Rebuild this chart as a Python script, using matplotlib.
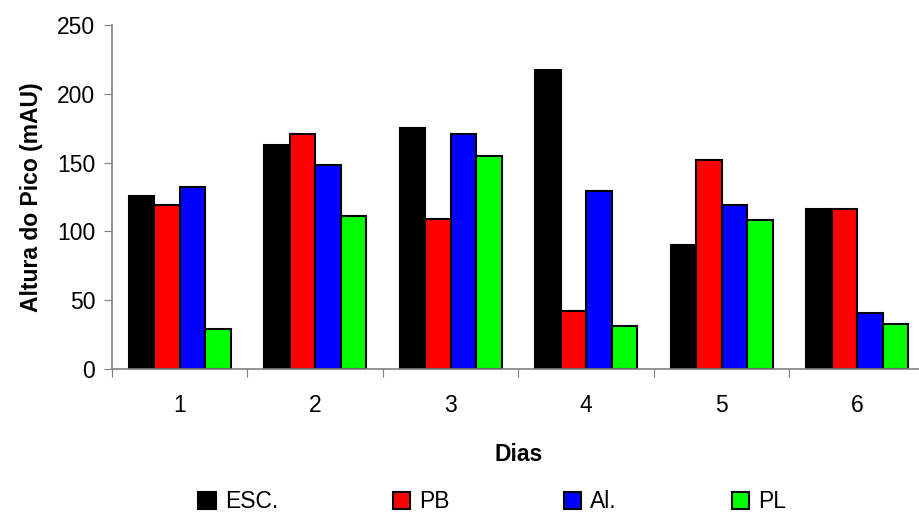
import matplotlib.pyplot as plt
import numpy as np

plt.rcParams['font.family'] = ['Liberation Sans', 'DejaVu Sans']

# Data
dias = ['1', '2', '3', '4', '5', '6']
series = ['ESC.', 'PB', 'Al.', 'PL']
esc = [126, 163, 175, 217, 90, 116]
pb = [119, 171, 109, 42, 152, 116]
al = [132, 148, 171, 129, 119, 41]
pl = [29, 111, 155, 31, 108, 33]
colors = ['#000000', '#ff0000', '#0000ff', '#00ff00']

fs = 16.5

fig = plt.figure(figsize=(9.2, 5.16), dpi=100)
ax = fig.add_axes([112 / 920, 147 / 516, 813 / 920, 344 / 516])

x = np.arange(len(dias))
w = 0.1875
for i, (vals, name, c) in enumerate(zip([esc, pb, al, pl], series, colors)):
    ax.bar(x + (i - 1.5) * w, vals, w, color=c, edgecolor='black',
           linewidth=1.5, label=name)

ax.set_xlim(-0.5, len(dias) - 0.5)
ax.set_ylim(0, 250)
ax.set_yticks([0, 50, 100, 150, 200, 250])

# category boundaries as ticks, labels centered
ax.set_xticks(np.arange(len(dias) + 1) - 0.5)
ax.set_xticklabels([])
ax.set_xticks(x, minor=True)
ax.set_xticklabels(dias, minor=True)
ax.tick_params(axis='x', which='minor', length=0, pad=18, labelsize=fs)
ax.tick_params(axis='x', which='major', length=6, color='#808080', direction='out')
ax.tick_params(axis='y', length=6, color='#808080', labelsize=fs, pad=6)

for s in ['top', 'right']:
    ax.spines[s].set_visible(False)
for s in ['left', 'bottom']:
    ax.spines[s].set_color('#808080')
    ax.spines[s].set_linewidth(1.2)

ax.set_xlabel('Dias', fontsize=fs, fontweight='bold', labelpad=19)
ax.set_ylabel('Altura do Pico (mAU)', fontsize=fs, fontweight='bold', labelpad=10)

fig.legend(loc='lower center', bbox_to_anchor=(0.535, -0.035), ncol=4,
           frameon=False, fontsize=fs, handlelength=0.75, handleheight=0.75,
           handletextpad=0.4, columnspacing=5.0)

fig.savefig('out.png', dpi=100)
